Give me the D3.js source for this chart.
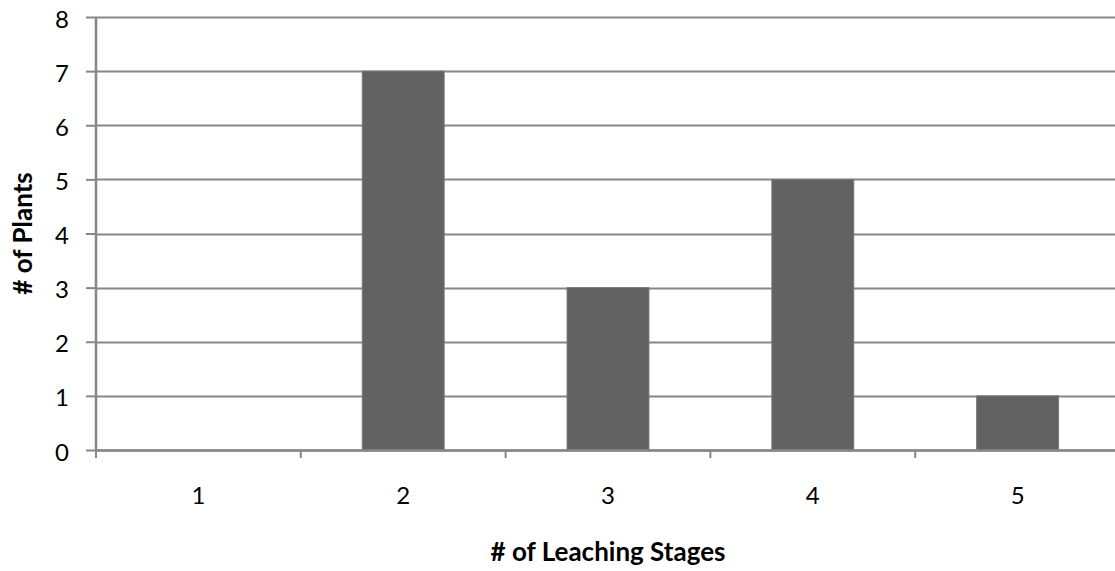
<!DOCTYPE html>
<html>
<head>
<meta charset="utf-8">
<script src="https://cdn.jsdelivr.net/npm/d3@7"></script>
<style>
  html, body { margin: 0; padding: 0; background: #fff; }
  svg { display: block; font-family: Lato, "Open Sans", sans-serif; }
</style>
</head>
<body>
<svg id="chart" width="1115" height="571"></svg>
<script>
// Number of leaching stages per plant
const stages = ["1", "2", "3", "4", "5"];
const plantCounts = [0, 7, 3, 5, 1];
const yTicks = [0, 1, 2, 3, 4, 5, 6, 7, 8];
const xTitle = "# of Leaching Stages";
const yTitle = "# of Plants";

const svg = d3.select("#chart");
const margin = { left: 96, right: -5, top: 17, bottom: 121 };
const width = 1115 - margin.left - margin.right;
const height = 571 - margin.top - margin.bottom;

const g = svg.append("g").attr("transform", `translate(${margin.left},${margin.top})`);

const x = d3.scaleBand().domain(stages).range([0, width]).paddingInner(0.6).paddingOuter(0.3);
const y = d3.scaleLinear().domain([0, 8]).range([height, 0]);

const gridColor = "#878787";

// horizontal gridlines
g.append("g")
  .selectAll("line")
  .data(yTicks)
  .join("line")
  .attr("x1", 0).attr("x2", width)
  .attr("y1", d => Math.round(y(d)) + 0.5).attr("y2", d => Math.round(y(d)) + 0.5)
  .attr("stroke", gridColor).attr("stroke-width", 2);

// bars
g.append("g")
  .selectAll("rect")
  .data(stages.map((s, i) => ({ s, v: plantCounts[i] })))
  .join("rect")
  .attr("x", d => x(d.s))
  .attr("y", d => y(d.v))
  .attr("width", x.bandwidth())
  .attr("height", d => height - y(d.v))
  .attr("fill", "#626262")
  .attr("stroke", "#787878")
  .attr("stroke-width", 1);

// y axis
const yAxis = g.append("g")
  .call(d3.axisLeft(y).tickValues(yTicks).tickSize(10).tickPadding(17).tickFormat(d3.format("d")));
yAxis.select(".domain").attr("stroke", gridColor).attr("stroke-width", 2.5).attr("d", `M0,0V${height}`);
yAxis.selectAll(".tick line").attr("stroke", gridColor).attr("stroke-width", 2);
yAxis.selectAll(".tick text")
  .attr("font-size", 24).attr("fill", "#000").attr("font-family", "Lato, sans-serif")
  .attr("dy", "0.42em");

// x axis with ticks at category boundaries
const xAxisG = g.append("g").attr("transform", `translate(0,${height})`);
xAxisG.append("line")
  .attr("x1", 0).attr("x2", width)
  .attr("y1", 0.5).attr("y2", 0.5)
  .attr("stroke", gridColor).attr("stroke-width", 2.5);
const boundaries = d3.range(0, stages.length + 1).map(i => i * width / stages.length);
xAxisG.selectAll("line.tick")
  .data(boundaries)
  .join("line")
  .attr("class", "tick")
  .attr("x1", d => d).attr("x2", d => d)
  .attr("y1", 0).attr("y2", 8)
  .attr("stroke", gridColor).attr("stroke-width", 2);
xAxisG.selectAll("text")
  .data(stages)
  .join("text")
  .attr("x", d => x(d) + x.bandwidth() / 2)
  .attr("y", 54)
  .attr("text-anchor", "middle")
  .attr("font-size", 24)
  .attr("fill", "#000")
  .text(d => d);

// axis titles, centred on the plot area
const titleSize = 26;
svg.append("text")
  .attr("x", margin.left + width / 2).attr("y", 561)
  .attr("text-anchor", "middle")
  .attr("font-size", titleSize).attr("font-weight", "bold")
  .text(xTitle);

svg.append("text")
  .attr("transform", `translate(32,${margin.top + height / 2}) rotate(-90)`)
  .attr("text-anchor", "middle")
  .attr("font-size", titleSize).attr("font-weight", "bold")
  .text(yTitle);
</script>
</body>
</html>
